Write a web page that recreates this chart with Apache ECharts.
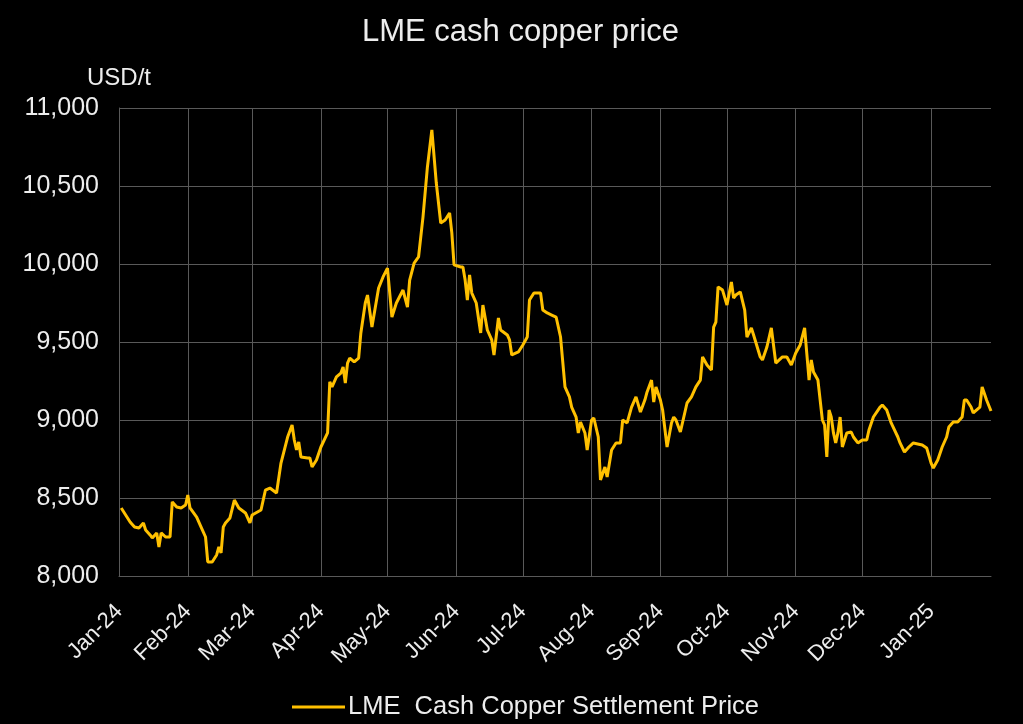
<!DOCTYPE html>
<html>
<head>
<meta charset="utf-8">
<script src="https://cdn.jsdelivr.net/npm/echarts@6/dist/echarts.min.js"></script>
<style>
html,body{margin:0;padding:0;background:#000;}
#chart{width:1023px;height:724px;}
</style>
</head>
<body>
<div id="chart"></div>
<script>
// ---- Data ----
const chartTitle = 'LME cash copper price';
const seriesName = 'LME  Cash Copper Settlement Price';
const unitLabel = 'USD/t';
const axisStart = '2024-01-01';
const axisEnd = '2025-01-28';
const tickLabels = ['Jan-24','Feb-24','Mar-24','Apr-24','May-24','Jun-24','Jul-24','Aug-24','Sep-24','Oct-24','Nov-24','Dec-24','Jan-25'];
const yTicks = [8000, 8500, 9000, 9500, 10000, 10500, 11000];

const priceDates = [
'2024-01-02','2024-01-04','2024-01-06','2024-01-08','2024-01-10','2024-01-12','2024-01-13','2024-01-15','2024-01-16','2024-01-18',
'2024-01-19','2024-01-20','2024-01-22','2024-01-24','2024-01-25','2024-01-27','2024-01-29','2024-01-31','2024-02-01','2024-02-02',
'2024-02-05','2024-02-07','2024-02-09','2024-02-10','2024-02-12','2024-02-14','2024-02-15','2024-02-16','2024-02-17','2024-02-18',
'2024-02-20','2024-02-22','2024-02-24','2024-02-27','2024-02-29','2024-03-01','2024-03-05','2024-03-07','2024-03-09','2024-03-12',
'2024-03-14','2024-03-17','2024-03-19','2024-03-20','2024-03-21','2024-03-22','2024-03-23','2024-03-26','2024-03-27','2024-03-28',
'2024-03-30','2024-04-01','2024-04-04','2024-04-05','2024-04-06','2024-04-08','2024-04-10','2024-04-11','2024-04-12','2024-04-13',
'2024-04-14','2024-04-16','2024-04-18','2024-04-19','2024-04-21','2024-04-22','2024-04-24','2024-04-27','2024-04-29','2024-05-01',
'2024-05-03','2024-05-05','2024-05-08','2024-05-10','2024-05-11','2024-05-13','2024-05-15','2024-05-17','2024-05-19','2024-05-21',
'2024-05-23','2024-05-25','2024-05-27','2024-05-29','2024-05-30','2024-05-31','2024-06-03','2024-06-04','2024-06-05','2024-06-06',
'2024-06-07','2024-06-08','2024-06-10','2024-06-12','2024-06-13','2024-06-15','2024-06-17','2024-06-18','2024-06-20','2024-06-21',
'2024-06-24','2024-06-25','2024-06-26','2024-06-29','2024-07-01','2024-07-03','2024-07-04','2024-07-06','2024-07-09','2024-07-10',
'2024-07-12','2024-07-14','2024-07-16','2024-07-18','2024-07-20','2024-07-22','2024-07-23','2024-07-25','2024-07-26','2024-07-27',
'2024-07-29','2024-07-30','2024-08-01','2024-08-02','2024-08-04','2024-08-05','2024-08-07','2024-08-08','2024-08-10','2024-08-12',
'2024-08-14','2024-08-15','2024-08-17','2024-08-19','2024-08-21','2024-08-23','2024-08-25','2024-08-26','2024-08-28','2024-08-29',
'2024-08-30','2024-09-01','2024-09-02','2024-09-04','2024-09-06','2024-09-07','2024-09-08','2024-09-10','2024-09-13','2024-09-15',
'2024-09-17','2024-09-19','2024-09-20','2024-09-22','2024-09-24','2024-09-25','2024-09-26','2024-09-27','2024-09-29','2024-10-01',
'2024-10-03','2024-10-04','2024-10-05','2024-10-07','2024-10-09','2024-10-10','2024-10-12','2024-10-13','2024-10-16','2024-10-17',
'2024-10-19','2024-10-21','2024-10-23','2024-10-26','2024-10-28','2024-10-30','2024-11-01','2024-11-03','2024-11-05','2024-11-07',
'2024-11-08','2024-11-09','2024-11-11','2024-11-13','2024-11-14','2024-11-15','2024-11-16','2024-11-17','2024-11-18','2024-11-19',
'2024-11-20','2024-11-21','2024-11-22','2024-11-24','2024-11-26','2024-11-27','2024-11-29','2024-12-01','2024-12-03','2024-12-04',
'2024-12-06','2024-12-09','2024-12-10','2024-12-12','2024-12-14','2024-12-17','2024-12-18','2024-12-20','2024-12-22','2024-12-24',
'2024-12-28','2024-12-30','2025-01-01','2025-01-02','2025-01-04','2025-01-06','2025-01-08','2025-01-09','2025-01-11','2025-01-13',
'2025-01-15','2025-01-16','2025-01-17','2025-01-19','2025-01-20','2025-01-23','2025-01-24','2025-01-26','2025-01-28'
];
const priceValues = [
8436,8391,8346,8314,8308,8340,8295,8263,8244,8276,
8186,8276,8250,8250,8475,8442,8436,8455,8519,8436,
8378,8314,8250,8090,8090,8135,8186,8148,8314,8340,
8372,8487,8436,8404,8340,8391,8423,8551,8564,8532,
8724,8891,8968,8872,8808,8859,8763,8757,8757,8699,
8744,8827,8917,9244,9212,9276,9301,9340,9237,9365,
9397,9372,9397,9558,9750,9801,9596,9846,9917,9974,
9660,9750,9833,9724,9897,10006,10045,10301,10622,10859,
10519,10263,10282,10327,10199,9994,9981,9981,9897,9769,
9930,9814,9750,9558,9737,9577,9513,9417,9654,9577,
9545,9513,9417,9436,9481,9532,9769,9814,9814,9705,
9686,9673,9660,9532,9212,9148,9083,9019,8917,8987,
8917,8808,9000,9013,8891,8616,8699,8635,8808,8853,
8853,9000,8981,9083,9148,9051,9128,9180,9256,9115,
9212,9128,9064,8827,8981,9019,9000,8923,9109,9148,
9212,9256,9404,9353,9321,9596,9628,9853,9833,9737,
9885,9782,9801,9821,9705,9532,9590,9545,9404,9385,
9468,9590,9365,9404,9404,9353,9429,9481,9590,9256,
9385,9308,9256,9000,8968,8763,9064,9019,8917,8853,
8917,9019,8827,8917,8923,8891,8853,8872,8872,8936,
9019,9083,9096,9064,8981,8891,8853,8795,8827,8853,
8840,8821,8724,8692,8744,8827,8891,8955,8987,8987,
9019,9128,9128,9083,9045,9083,9212,9128,9058
];

// ---- Build calendar-day categories ----
function ymd(d){
  const m = d.getUTCMonth()+1, day = d.getUTCDate();
  return d.getUTCFullYear()+'-'+(m<10?'0':'')+m+'-'+(day<10?'0':'')+day;
}
const days = [];
{
  const s = new Date(axisStart+'T00:00:00Z'), e = new Date(axisEnd+'T00:00:00Z');
  for (let t = s.getTime(); t <= e.getTime(); t += 86400000) days.push(ymd(new Date(t)));
}
const isMonthStart = (idx, val) => val.slice(8) === '01';
function monthLabel(val){
  const y = +val.slice(0,4), m = +val.slice(5,7);
  const i = (y - 2024)*12 + (m - 1);
  return tickLabels[i] || '';
}
const seriesData = priceDates.map((d, i) => [d, priceValues[i]]);

const FONT = '"Liberation Sans", Arial, sans-serif';
const TXT = '#ededed';
const GRID = '#595959';

const chart = echarts.init(document.getElementById('chart'), null, {renderer:'canvas'});
chart.setOption({
  backgroundColor: '#000',
  animation: false,
  textStyle: {fontFamily: FONT, color: TXT},
  title: {
    text: chartTitle, left: 357, top: 12,
    textStyle: {fontFamily: FONT, fontSize: 31, fontWeight: 'normal', color: TXT}
  },
  legend: {
    data: [seriesName], top: 689, left: 287,
    icon: 'rect', itemWidth: 53, itemHeight: 3, itemGap: 10,
    textStyle: {fontFamily: FONT, fontSize: 25.5, color: TXT, padding: [0,0,0,-2]}
  },
  grid: {left: 119, right: 32, top: 108, bottom: 148},
  xAxis: {
    type: 'category', data: days, boundaryGap: false,
    axisLine: {show: true, lineStyle: {color: GRID, width: 1}},
    axisTick: {show: false},
    axisLabel: {
      interval: isMonthStart, rotate: 45, margin: 32,
      fontFamily: FONT, fontSize: 22, color: TXT,
      formatter: monthLabel
    },
    splitLine: {show: true, interval: isMonthStart, lineStyle: {color: GRID, width: 1}}
  },
  yAxis: {
    type: 'value', min: yTicks[0], max: yTicks[yTicks.length-1], interval: 500,
    name: unitLabel, nameLocation: 'end', nameGap: 18,
    nameTextStyle: {fontFamily: FONT, fontSize: 24, color: TXT, align: 'center'},
    axisLine: {show: true, lineStyle: {color: GRID, width: 1}},
    axisTick: {show: false},
    axisLabel: {
      margin: 20, fontFamily: FONT, fontSize: 25, color: TXT,
      formatter: v => v.toLocaleString('en-US')
    },
    splitLine: {show: true, lineStyle: {color: GRID, width: 1}}
  },
  series: [{
    name: seriesName, type: 'line', data: seriesData,
    showSymbol: false, symbol: 'none',
    lineStyle: {color: '#FFC000', width: 3},
    itemStyle: {color: '#FFC000'}
  }]
});
</script>
</body>
</html>
